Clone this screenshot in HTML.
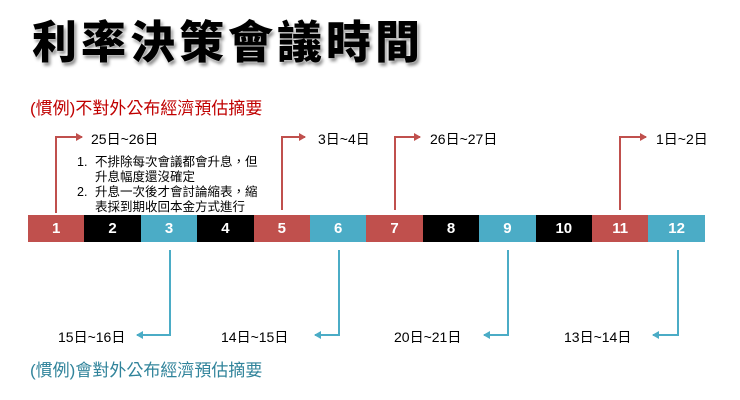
<!DOCTYPE html>
<html><head><meta charset="utf-8"><style>
body{margin:0;width:740px;height:400px;background:#fff;position:relative;overflow:hidden;font-family:"Liberation Sans","Noto Sans CJK TC",sans-serif}
.t{position:absolute;white-space:nowrap}
.title{left:32px;top:6px;font-size:45px;font-weight:900;color:#000;letter-spacing:4px;text-shadow:0 0 2px #fff,2px 3px 3px #888}
.cell{position:absolute;top:215px;height:27px;width:56.4px;color:#fff;font-weight:bold;font-size:15px;text-align:center;line-height:27px}
.r{background:#c0504d}.k{background:#000}.b{background:#4bacc6}
.d{font-size:14px;color:#000}
.li{font-size:12.5px;line-height:15px}
</style></head><body>
<div class="t title">利率決策會議時間</div>
<div class="t" style="left:30px;top:94px;font-size:17px;color:#c00000">(慣例)不對外公布經濟預估摘要</div>
<div class="t" style="left:30px;top:356px;font-size:17px;color:#31849b">(慣例)會對外公布經濟預估摘要</div>

<div class="cell r" style="left:28px">1</div>
<div class="cell k" style="left:84.4px">2</div>
<div class="cell b" style="left:140.8px">3</div>
<div class="cell k" style="left:197.2px">4</div>
<div class="cell r" style="left:253.6px">5</div>
<div class="cell b" style="left:310px">6</div>
<div class="cell r" style="left:366.4px">7</div>
<div class="cell k" style="left:422.8px">8</div>
<div class="cell b" style="left:479.2px">9</div>
<div class="cell k" style="left:535.6px">10</div>
<div class="cell r" style="left:592px">11</div>
<div class="cell b" style="left:648.4px">12</div>

<svg width="740" height="400" style="position:absolute;left:0;top:0">
<defs>
<marker id="ar" markerWidth="8" markerHeight="8" refX="6" refY="4" orient="auto" markerUnits="userSpaceOnUse"><path d="M0,0 L7,4 L0,8 z" fill="#c0504d"/></marker>
<marker id="ab" markerWidth="8" markerHeight="8" refX="6" refY="4" orient="auto" markerUnits="userSpaceOnUse"><path d="M0,0 L7,4 L0,8 z" fill="#4bacc6"/></marker>
</defs>
<g stroke="#c0504d" stroke-width="2" fill="none" marker-end="url(#ar)">
<path d="M56,213 V137 H82"/>
<path d="M282,210 V137 H305"/>
<path d="M395,210 V137 H420"/>
<path d="M620,210 V137 H646"/>
</g>
<g stroke="#4bacc6" stroke-width="2" fill="none" marker-end="url(#ab)">
<path d="M170,250 V335 H137"/>
<path d="M339,250 V335 H315"/>
<path d="M508,250 V335 H484"/>
<path d="M678,250 V335 H653"/>
</g>
</svg>

<div class="t d" style="left:91px;top:129px">25日~26日</div>
<div class="t d" style="left:318px;top:129px">3日~4日</div>
<div class="t d" style="left:430px;top:129px">26日~27日</div>
<div class="t d" style="left:656px;top:129px">1日~2日</div>
<div class="t d" style="left:58px;top:327px">15日~16日</div>
<div class="t d" style="left:221px;top:327px">14日~15日</div>
<div class="t d" style="left:394px;top:327px">20日~21日</div>
<div class="t d" style="left:564px;top:327px">13日~14日</div>

<div class="t li" style="left:77px;top:155px">1.</div>
<div class="t li" style="left:95px;top:155px">不排除每次會議都會升息，但<br>升息幅度還沒確定</div>
<div class="t li" style="left:77px;top:185px">2.</div>
<div class="t li" style="left:95px;top:185px">升息一次後才會討論縮表，縮<br>表採到期收回本金方式進行</div>
</body></html>
